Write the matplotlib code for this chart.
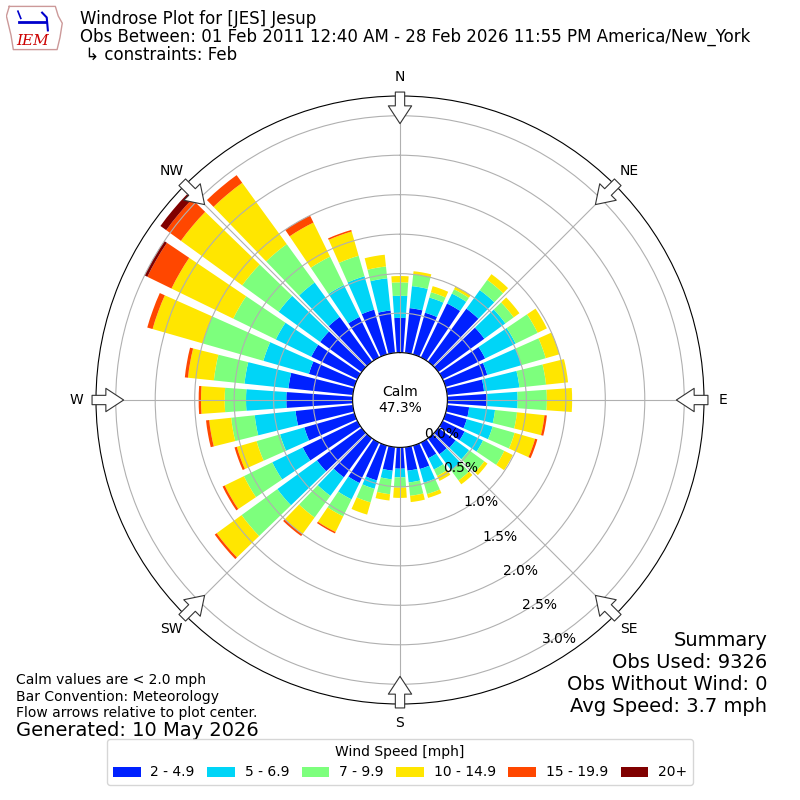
from matplotlib import pyplot as plt
import numpy as np

# direction bins (degrees, meteorological) and frequency [%] per speed bin
directions = np.arange(0, 360, 10)
speed_labels = ["2 - 4.9", "5 - 6.9", "7 - 9.9", "10 - 14.9", "15 - 19.9", "20+"]
colors = ["#0021ff", "#00d5f7", "#7dff7d", "#ffe600", "#ff4700", "#800000"]

freq_2_5 = [0.44, 0.57, 0.55, 0.76, 0.83, 0.72, 0.60, 0.55, 0.47, 0.50, 0.28, 0.28,
            0.31, 0.27, 0.25, 0.22, 0.31, 0.30, 0.27, 0.30, 0.46, 0.57, 0.61, 0.70,
            0.77, 0.66, 0.73, 0.84, 0.82, 0.60, 0.65, 0.65, 0.70, 0.57, 0.59, 0.54]
freq_5_7 = [0.28, 0.28, 0.20, 0.14, 0.29, 0.33, 0.43, 0.45, 0.45, 0.39, 0.33, 0.34,
            0.26, 0.21, 0.25, 0.16, 0.18, 0.15, 0.11, 0.11, 0.11, 0.23, 0.29, 0.62,
            0.43, 0.32, 0.52, 0.51, 0.56, 0.60, 0.50, 0.65, 0.54, 0.45, 0.44, 0.41]
freq_7_10 = [0.17, 0.15, 0.07, 0.06, 0.16, 0.13, 0.31, 0.32, 0.34, 0.37, 0.28, 0.29,
             0.30, 0.24, 0.16, 0.09, 0.15, 0.17, 0.13, 0.19, 0.18, 0.24, 0.34, 0.56,
             0.40, 0.31, 0.30, 0.27, 0.39, 0.80, 0.60, 0.57, 0.60, 0.40, 0.27, 0.15]
freq_10_15 = [0.08, 0.04, 0.08, 0.04, 0.09, 0.09, 0.13, 0.18, 0.28, 0.32, 0.35, 0.27,
              0.12, 0.05, 0.06, 0.07, 0.05, 0.08, 0.13, 0.08, 0.16, 0.22, 0.26, 0.39,
              0.27, 0.26, 0.28, 0.30, 0.33, 0.66, 0.87, 0.96, 0.96, 0.48, 0.32, 0.15]
freq_15_20 = [0, 0, 0, 0, 0, 0, 0, 0, 0, 0, 0.03, 0.03,
              0, 0, 0, 0, 0, 0, 0, 0, 0, 0.02, 0.03, 0.03,
              0.03, 0.03, 0.04, 0.03, 0.04, 0.07, 0.34, 0.23, 0.12, 0.10, 0.02, 0]
freq_20 = [0, 0, 0, 0, 0, 0, 0, 0, 0, 0, 0, 0,
           0, 0, 0, 0, 0, 0, 0, 0, 0, 0, 0, 0,
           0, 0, 0, 0, 0, 0, 0.04, 0.09, 0, 0, 0, 0]

calm_pct = 47.3
compass = ["N", "NE", "E", "SE", "S", "SW", "W", "NW"]
rticks = [0.0, 0.5, 1.0, 1.5, 2.0, 2.5, 3.0]

fig = plt.figure(figsize=(8, 8), dpi=100)
ax = fig.add_axes([0.12, 0.12, 0.76, 0.76], projection="polar")
ax.set_theta_zero_location("N")
ax.set_theta_direction(-1)

theta = np.deg2rad(directions)
width = np.deg2rad(10) * 0.8
bottom = np.zeros(len(directions))
handles = []
for vals, col, lab in zip([freq_2_5, freq_5_7, freq_7_10, freq_10_15, freq_15_20, freq_20],
                          colors, speed_labels):
    vals = np.array(vals)
    b = ax.bar(theta, vals, width=width, bottom=bottom, color=col, label=lab,
               linewidth=0)
    handles.append(b)
    bottom = bottom + vals

ax.set_rorigin(-0.6)
ax.set_ylim(0, 3.25)
ax.set_yticks(rticks)
ax.set_yticklabels(["%.1f%%" % v for v in rticks], fontsize=10)
ax.set_rlabel_position(150)
ax.set_xticks(np.deg2rad(np.arange(0, 360, 45)))
ax.set_xticklabels(compass, fontsize=10)
ax.tick_params(axis="x", pad=3.5)
ax.grid(True, color="#b0b0b0", lw=0.8)

# flow arrows on the rim
for th in np.deg2rad(np.arange(0, 360, 45)):
    ax.annotate("", xy=(th, 2.9), xytext=(th, 3.3),
                arrowprops=dict(arrowstyle="simple,head_length=0.8,head_width=1.05,tail_width=0.42",
                                fc="white", ec="#333333", lw=0.8, mutation_scale=16,
                                shrinkA=0, shrinkB=0),
                annotation_clip=False, zorder=10)

ax.text(0.5, 0.5, "Calm\n%.1f%%" % calm_pct, transform=ax.transAxes,
        ha="center", va="center", fontsize=10)

# header
fig.text(0.1, 0.976, "Windrose Plot for [JES] Jesup", fontsize=12, va="center")
fig.text(0.1, 0.954, "Obs Between: 01 Feb 2011 12:40 AM - 28 Feb 2026 11:55 PM America/New_York",
         fontsize=12, va="center")
fig.text(0.1, 0.931, " \u21b3 constraints: Feb", fontsize=12, va="center")

# logo
lax = fig.add_axes([0.008, 0.935, 0.072, 0.06])
lax.plot([0.05, 0.85, 0.9, 0.97, 0.93, 0.88, 0.12, 0.08, 0.0, 0.05],
         [0.95, 0.95, 0.75, 0.6, 0.3, 0.05, 0.05, 0.35, 0.75, 0.95], color="#cc9999", lw=1)
lax.plot([0.22, 0.68], [0.62, 0.62], color="#0000cc", lw=2)
lax.plot([0.2, 0.25], [0.85, 0.7], color="#0000cc", lw=1.2)
lax.plot([0.62, 0.7, 0.72], [0.82, 0.72, 0.45], color="#0000cc", lw=1.5)
lax.text(0.45, 0.22, "IEM", color="#cc0000", fontsize=11, style="italic",
         family="DejaVu Serif", ha="center", va="center")
lax.set_xlim(0, 1)
lax.set_ylim(0, 1)
lax.axis("off")

# footnotes
fig.text(0.02, 0.150, "Calm values are < 2.0 mph", fontsize=10, va="center")
fig.text(0.02, 0.129, "Bar Convention: Meteorology", fontsize=10, va="center")
fig.text(0.02, 0.109, "Flow arrows relative to plot center.", fontsize=10, va="center")
fig.text(0.02, 0.0875, "Generated: 10 May 2026", fontsize=14, va="center")

fig.text(0.959, 0.200, "Summary", fontsize=14, ha="right", va="center")
fig.text(0.959, 0.1725, "Obs Used: 9326", fontsize=14, ha="right", va="center")
fig.text(0.959, 0.145, "Obs Without Wind: 0", fontsize=14, ha="right", va="center")
fig.text(0.959, 0.1175, "Avg Speed: 3.7 mph", fontsize=14, ha="right", va="center")

fig.legend(handles, speed_labels, loc="lower center", bbox_to_anchor=(0.5, 0.01),
           ncol=6, title="Wind Speed [mph]", fontsize=10, title_fontsize=10,
           columnspacing=0.9, handletextpad=0.7)

plt.savefig("out.png", dpi=100)
